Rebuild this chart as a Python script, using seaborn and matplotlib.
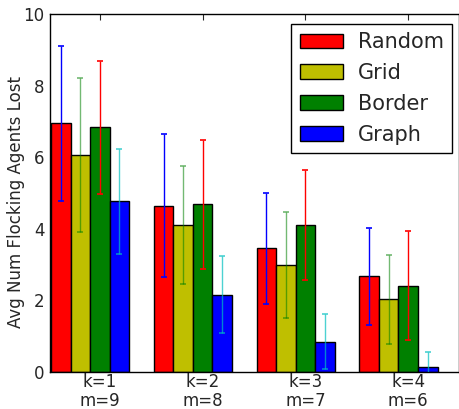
import numpy as np
import pandas as pd
import matplotlib
matplotlib.use("Agg")
import matplotlib.pyplot as plt
import seaborn as sns

groups = ["k=1\nm=9", "k=2\nm=8", "k=3\nm=7", "k=4\nm=6"]
methods = ["Random", "Grid", "Border", "Graph"]
random_mean = [6.95, 4.64, 3.45, 2.67]
grid_mean = [6.05, 4.11, 2.99, 2.03]
border_mean = [6.83, 4.69, 4.11, 2.41]
graph_mean = [4.77, 2.16, 0.85, 0.13]
random_err = [2.17, 2.00, 1.55, 1.36]
grid_err = [2.15, 1.64, 1.48, 1.24]
border_err = [1.85, 1.80, 1.53, 1.52]
graph_err = [1.47, 1.08, 0.77, 0.42]

bar_colors = ["#ff0000", "#bfbf00", "#008000", "#0000ff"]
err_colors = [("#0000ff", 1.0), ("#008000", 0.55), ("#ff0000", 1.0), ("#00bfbf", 0.7)]

means = [random_mean, grid_mean, border_mean, graph_mean]
errs = [random_err, grid_err, border_err, graph_err]

rows = []
for m, vals in zip(methods, means):
    for g, v in zip(groups, vals):
        rows.append({"group": g, "method": m, "value": v})
df = pd.DataFrame(rows)

sns.set_style("white")
plt.rcParams["font.family"] = ["DejaVu Sans"]

W, H = 459, 409
fig = plt.figure(figsize=(W / 100, H / 100), dpi=100)
ax = fig.add_axes([50 / W, 37 / H, 1 - 50 / W, 358 / H])

sns.barplot(data=df, x="group", y="value", hue="method", order=groups,
            hue_order=methods, palette=bar_colors, saturation=1, width=0.76,
            edgecolor="black", linewidth=1.0, errorbar=None, ax=ax)

for cont, e, (ec, ea) in zip(ax.containers, errs, err_colors):
    xs = [p.get_x() + p.get_width() / 2 for p in cont.patches]
    hs = [p.get_height() for p in cont.patches]
    ax.errorbar(xs, hs, yerr=e, fmt="none", ecolor=ec, alpha=ea,
                elinewidth=1.0, capsize=2.5, capthick=1.2, zorder=5)

ax.set_xlim(-0.39, -0.39 + 409 / 102.8)
ax.set_ylim(0, 10)
ax.set_yticks([0, 2, 4, 6, 8, 10])
ax.set_xticks(np.arange(len(groups)) + 0.095)
ax.set_xticklabels(groups, linespacing=1.02)
ax.set_xlabel("")
ax.set_ylabel("Avg Num Flocking Agents Lost", fontsize=12)
ax.yaxis.set_label_coords(25 / W, 1 - 201.5 / H, transform=fig.transFigure)
ax.tick_params(axis="both", direction="in", length=4, width=0.8,
               labelsize=12, top=True, right=False)
ax.tick_params(axis="x", pad=1)
ax.tick_params(axis="y", pad=4)
for s in ax.spines.values():
    s.set_visible(True)
    s.set_color("black")
    s.set_linewidth(1.0)

handles = [plt.Rectangle((0, 0), 1, 1, facecolor=c, edgecolor="black", linewidth=1.0)
           for c in bar_colors]
leg = ax.legend(handles, methods, loc="upper right",
                bbox_to_anchor=(452 / W, 1 - 24 / H), bbox_transform=fig.transFigure,
                borderaxespad=0, fontsize=15, fancybox=False, frameon=True,
                handlelength=2.07, handleheight=0.72, borderpad=0.4,
                labelspacing=0.52, handletextpad=0.72)
leg.get_frame().set_edgecolor("black")
leg.get_frame().set_linewidth(1.0)
leg.get_frame().set_alpha(1)

fig.savefig("out.png", dpi=100)
